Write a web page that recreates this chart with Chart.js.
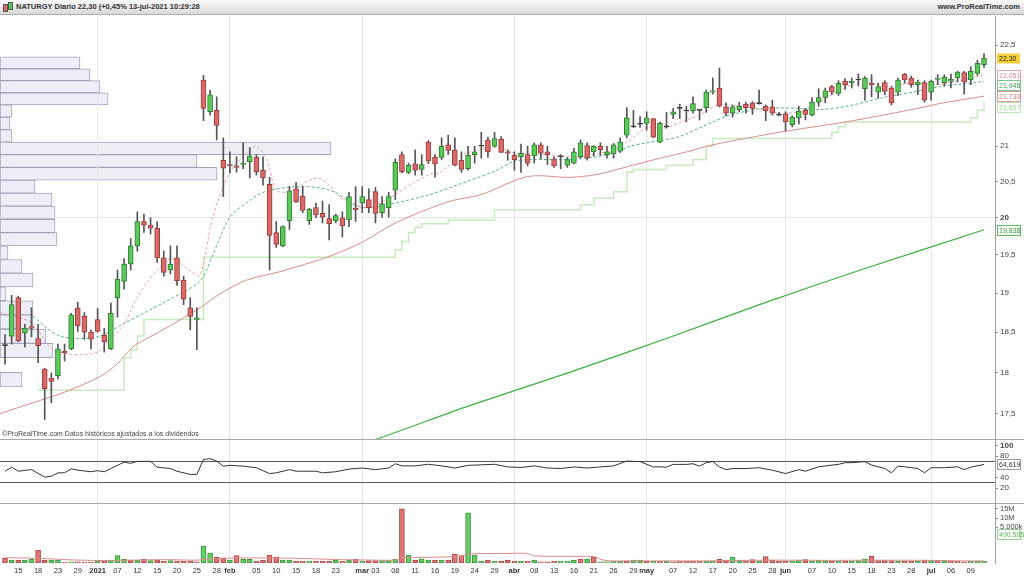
<!DOCTYPE html>
<html>
<head>
<meta charset="utf-8">
<script src="https://cdn.jsdelivr.net/npm/chart.js@4.4.1/dist/chart.umd.min.js"></script>
<style>
  body { margin: 0; width: 1024px; height: 576px; overflow: hidden; background: #fff; position: relative;
         font-family: "Liberation Sans", Arial, sans-serif; }
  #hdr { position: absolute; left: 0; top: 0; width: 1024px; height: 14px; background: linear-gradient(#fbfbfb, #d9d9d9);
         border-bottom: 1px solid #b0b0b0; font-size: 7.5px; font-weight: bold; color: #333; line-height: 14px; }
  #hdr .t { position: absolute; left: 16px; top: 0; }
  #hdr .r { position: absolute; right: 4px; top: 0; }
  #hdr .i1, #hdr .i2 { position: absolute; top: 4px; width: 3px; height: 6px; border: 1px solid #555; }
  #hdr .i1 { left: 3px; background: #d96a6a; }
  #hdr .i2 { left: 8px; top: 2px; background: #5cc85c; }
  canvas { position: absolute; left: 0; }
  .sep { position: absolute; left: 0; width: 1024px; height: 1px; background: #a8a8a8; }
  #note { position: absolute; left: 2px; top: 430px; font-size: 7px; color: #444; }
</style>
</head>
<body>
<div id="hdr"><span class="i1"></span><span class="i2"></span><span class="t">NATURGY Diario 22,30 (+0,45% 13-jul-2021 10:29:28</span><span class="r">www.ProRealTime.com</span></div>
<canvas id="profile" width="995" height="423" style="top:16px"></canvas>
<canvas id="price" width="1024" height="423" style="top:16px"></canvas>
<canvas id="rsi" width="1024" height="64" style="top:439px"></canvas>
<canvas id="vol" width="1024" height="73" style="top:503px"></canvas>
<div class="sep" style="top:439px"></div>
<div class="sep" style="top:503px"></div>
<div id="note">©ProRealTime.com  Datos históricos ajustados a los dividendos</div>
<script>
// sesiones 11-dic-2020 .. 13-jul-2021 (149 velas, índice 0..148)
const X_MIN = -0.76, X_MAX = 149.66;
const monthIdx = [14, 34, 54, 77, 97, 118, 140];
const xTickIdx = [2, 5, 8, 11, 14, 17, 20, 23, 26, 29, 32, 34, 38, 41, 44, 47, 50, 54, 56, 59, 62, 65, 68, 71, 74, 77, 80, 83, 86, 89, 92, 95, 97, 101, 104, 107, 110, 113, 116, 118, 122, 125, 128, 131, 134, 137, 140, 143, 146];
const xTickText = ['15', '18', '23', '29', '2021', '07', '12', '15', '20', '25', '28', 'feb', '05', '10', '15', '18', '23', 'mar', '03', '08', '11', '16', '19', '24', '29', 'abr', '08', '13', '16', '21', '26', '29', 'may', '07', '12', '17', '20', '25', '28', 'jun', '07', '10', '15', '18', '23', '28', 'jul', '06', '09'];

const opens = [18.33, 18.45, 18.94, 18.49, 18.57, 18.42, 18.04, 17.93, 17.96, 18.26, 18.29, 18.81, 18.70, 18.50, 18.66, 18.46, 18.29, 18.94, 19.15, 19.38,
  19.62, 19.95, 19.90, 19.86, 19.46, 19.30, 19.46, 19.17, 18.81, 18.66, 21.97, 21.50, 21.52, 20.80, 20.74, 20.72, 20.74, 20.78, 20.84, 20.66,
  20.46, 19.80, 19.62, 19.96, 20.40, 20.30, 19.96, 20.14, 20.06, 19.99, 19.96, 20.00, 19.97, 20.13, 20.20, 20.25, 20.36, 20.07, 20.14, 20.38,
  20.88, 20.63, 20.75, 20.67, 21.06, 20.84, 20.84, 21.02, 20.95, 20.80, 20.68, 20.88, 21.00, 21.09, 21.00, 21.10, 20.92, 20.87, 20.85, 20.88,
  20.86, 21.02, 20.92, 20.82, 20.85, 20.73, 20.76, 20.85, 21.01, 20.92, 21.00, 20.88, 20.89, 20.93, 21.16, 21.28, 21.32, 21.33, 21.40, 21.06,
  21.29, 21.46, 21.55, 21.52, 21.51, 21.52, 21.56, 21.79, 21.85, 21.57, 21.48, 21.53, 21.61, 21.63, 21.62, 21.58, 21.57, 21.46, 21.47, 21.31,
  21.41, 21.52, 21.45, 21.64, 21.71, 21.87, 21.77, 21.95, 21.93, 21.97, 21.84, 21.92, 21.79, 21.93, 21.85, 21.79, 22.06, 22.00, 21.90, 21.93,
  21.79, 21.98, 21.93, 21.95, 22.00, 22.08, 21.97, 22.07, 22.20];
const highs = [18.47, 18.97, 18.96, 18.60, 18.81, 18.60, 18.05, 17.99, 18.35, 18.35, 18.74, 18.88, 18.75, 18.53, 18.80, 18.55, 18.87, 19.30, 19.45, 19.72,
  20.08, 20.05, 20.00, 19.95, 19.55, 19.62, 19.62, 19.22, 18.94, 18.81, 22.04, 21.82, 21.72, 21.12, 20.92, 20.85, 21.05, 20.98, 20.88, 20.85,
  20.56, 19.95, 19.89, 20.43, 20.49, 20.43, 20.13, 20.20, 20.23, 20.18, 20.05, 20.08, 20.35, 20.43, 20.43, 20.40, 20.42, 20.29, 20.35, 20.82,
  20.92, 20.76, 20.95, 20.88, 21.08, 20.88, 21.12, 21.16, 21.12, 20.92, 21.00, 21.00, 21.20, 21.13, 21.20, 21.14, 20.95, 20.92, 21.03, 21.00,
  21.05, 21.05, 21.00, 20.85, 20.88, 20.84, 20.97, 21.09, 21.05, 21.01, 21.05, 21.00, 21.04, 21.12, 21.56, 21.52, 21.43, 21.50, 21.40, 21.35,
  21.49, 21.55, 21.61, 21.58, 21.72, 21.53, 21.82, 22.00, 22.15, 21.63, 21.60, 21.64, 21.64, 21.65, 21.82, 21.60, 21.67, 21.49, 21.50, 21.44,
  21.58, 21.55, 21.71, 21.84, 21.85, 21.89, 21.96, 21.99, 22.00, 22.06, 22.02, 22.05, 21.92, 21.96, 21.87, 22.00, 22.07, 22.03, 21.97, 21.96,
  21.97, 22.05, 22.05, 22.06, 22.10, 22.10, 22.17, 22.27, 22.37];
const lows = [18.10, 18.35, 18.38, 18.31, 18.44, 18.12, 17.43, 17.63, 17.92, 18.14, 18.28, 18.51, 18.41, 18.29, 18.50, 18.25, 18.28, 18.69, 19.05, 19.30,
  19.55, 19.80, 19.78, 19.40, 19.22, 19.25, 19.10, 18.85, 18.53, 18.28, 21.37, 21.45, 21.09, 20.29, 20.62, 20.63, 20.68, 20.55, 20.59, 20.45,
  19.30, 19.60, 19.61, 19.84, 20.21, 20.07, 19.91, 20.00, 19.93, 19.70, 19.93, 19.74, 19.88, 19.95, 20.07, 20.07, 19.93, 20.01, 20.01, 20.25,
  20.62, 20.61, 20.59, 20.59, 20.75, 20.56, 20.81, 20.88, 20.72, 20.63, 20.66, 20.76, 20.83, 20.84, 20.99, 20.91, 20.80, 20.66, 20.63, 20.72,
  20.76, 20.82, 20.74, 20.70, 20.68, 20.70, 20.75, 20.83, 20.80, 20.86, 20.87, 20.83, 20.83, 20.91, 21.12, 21.27, 21.27, 21.23, 21.12, 21.05,
  21.26, 21.40, 21.40, 21.35, 21.48, 21.38, 21.49, 21.76, 21.57, 21.44, 21.42, 21.50, 21.48, 21.46, 21.61, 21.37, 21.45, 21.44, 21.22, 21.28,
  21.32, 21.38, 21.44, 21.58, 21.63, 21.75, 21.74, 21.83, 21.85, 21.88, 21.67, 21.72, 21.70, 21.75, 21.60, 21.74, 21.92, 21.86, 21.75, 21.64,
  21.67, 21.90, 21.88, 21.85, 21.94, 21.76, 21.90, 22.04, 22.16];
const closes = [18.34, 18.85, 18.39, 18.55, 18.55, 18.33, 17.80, 17.89, 18.29, 18.24, 18.72, 18.58, 18.50, 18.41, 18.51, 18.38, 18.74, 19.18, 19.38, 19.62,
  19.95, 19.90, 19.86, 19.46, 19.27, 19.38, 19.16, 18.92, 18.70, 18.68, 21.55, 21.75, 21.30, 20.69, 20.72, 20.70, 20.76, 20.86, 20.64, 20.55,
  19.76, 19.64, 19.88, 20.37, 20.22, 20.10, 20.12, 20.04, 20.01, 19.92, 20.03, 19.89, 20.29, 20.11, 20.29, 20.14, 20.06, 20.19, 20.29, 20.77,
  20.64, 20.73, 20.66, 20.74, 20.79, 20.75, 21.00, 20.94, 20.73, 20.67, 20.87, 20.92, 21.01, 20.92, 21.11, 20.91, 20.90, 20.81, 20.90, 20.76,
  21.02, 20.90, 20.88, 20.72, 20.86, 20.81, 20.92, 21.05, 20.83, 21.00, 20.95, 20.92, 21.02, 21.06, 21.41, 21.29, 21.33, 21.41, 21.13, 21.33,
  21.28, 21.50, 21.55, 21.51, 21.62, 21.52, 21.79, 21.81, 21.58, 21.48, 21.57, 21.58, 21.56, 21.55, 21.63, 21.51, 21.48, 21.45, 21.35, 21.42,
  21.51, 21.46, 21.64, 21.71, 21.81, 21.79, 21.92, 21.90, 21.95, 21.98, 22.00, 21.90, 21.87, 21.80, 21.63, 21.97, 21.97, 21.90, 21.94, 21.67,
  21.95, 22.00, 22.01, 21.98, 22.09, 21.94, 22.10, 22.22, 22.30];

// volumen (millones de títulos) y color de la barra (g = sube, r = baja)
const volumes = [1.44, 0.86, 0.86, 0.86, 1.06, 3.73, 0.86, 0.86, 0.86, 0.20, 0.37, 0.37, 0.29, 0.29, 0.57, 0.57, 0.86, 2.10, 1.06, 0.86,
  0.86, 1.06, 0.66, 0.86, 0.49, 0.66, 0.57, 0.57, 0.57, 0.37, 4.88, 2.87, 1.72, 1.44, 0.86, 2.10, 1.06, 1.06, 0.57, 0.86,
  2.30, 1.72, 0.86, 0.86, 0.57, 0.49, 0.49, 0.49, 0.57, 0.57, 0.86, 0.49, 0.86, 1.06, 0.49, 0.66, 0.66, 0.66, 0.66, 1.06,
  15.50, 2.30, 0.86, 1.23, 0.86, 0.86, 0.86, 0.86, 2.58, 2.10, 14.35, 2.30, 0.57, 0.86, 0.49, 0.57, 0.86, 0.49, 0.57, 0.49,
  0.86, 0.37, 0.37, 0.49, 0.49, 0.49, 0.86, 1.15, 1.23, 1.72, 0.37, 0.37, 0.49, 0.57, 0.57, 0.86, 0.86, 0.57, 0.49, 0.49,
  0.57, 0.37, 0.49, 0.49, 0.49, 0.49, 0.57, 0.49, 1.06, 0.86, 1.72, 0.86, 0.49, 0.95, 0.57, 1.81, 0.86, 0.57, 0.49, 0.49,
  0.86, 0.95, 0.57, 0.77, 0.66, 0.57, 0.49, 0.57, 0.57, 0.66, 1.23, 1.92, 0.66, 0.66, 0.66, 0.57, 0.57, 0.49, 0.57, 0.86,
  0.66, 0.49, 0.77, 0.49, 0.49, 0.37, 0.49, 0.57, 0.490585];
const volUp = 'rgrggrrggrgrrrgrgggrgrgrrgrrrrggrrgrggrrrrggrrgrrrg' +
  'rgrgrrgggrgrggrgrrrgggrgrrrgrgrrrgggrgrggggrggrgrgr' +
  'rrrrggrrggrrgrrrrggrgggrgrgggrrrrgrrgrgrgrrrggg';

// medias y niveles (índice de vela, valor)
const maShortIdx = [-0.76, 4, 7, 10, 14, 16, 18, 20, 23, 25, 26, 28, 29.5, 31.4, 34, 36.6, 38, 39.6, 41, 43, 45.7, 47.2, 48.7, 50.6, 52.6, 54.7, 56.7, 59.3, 61.7, 64.2, 65.8, 69.2, 74.4, 76.8, 81.9, 86.9, 91.9, 94.5, 97, 99.5, 103.6, 105, 108, 112, 117, 120, 123, 127.3, 130.3, 133.3, 137.3, 141.3, 148];
const maShortVal = [18.75, 18.62, 18.30, 18.22, 18.25, 18.42, 18.60, 18.95, 19.30, 19.45, 19.42, 19.29, 19.23, 20.01, 20.63, 20.91, 21.00, 20.81, 20.38, 20.36, 20.50, 20.55, 20.48, 20.29, 20.18, 20.14, 20.20, 20.34, 20.48, 20.60, 20.63, 20.88, 20.98, 20.91, 20.88, 20.85, 20.95, 21.09, 21.27, 21.26, 21.40, 21.45, 21.60, 21.57, 21.48, 21.50, 21.64, 21.87, 21.94, 21.87, 21.93, 21.90, 22.051];
const maMidIdx = [4.2, 8.3, 13.9, 18.4, 24.5, 29.5, 31.4, 34, 36.6, 39, 44.1, 49.1, 54.1, 59.3, 64.2, 69.2, 74.4, 76.8, 79.4, 84.4, 89.5, 92.5, 94.5, 97, 99.5, 102, 107, 109.6, 114.6, 119.7, 123.2, 127.3, 132.3, 137.3, 141.3, 148];
const maMidVal = [18.70, 18.45, 18.44, 18.63, 18.90, 19.16, 19.50, 20.01, 20.21, 20.35, 20.43, 20.38, 20.14, 20.21, 20.32, 20.48, 20.66, 20.78, 20.81, 20.81, 20.85, 20.92, 21.00, 21.05, 21.09, 21.14, 21.35, 21.45, 21.55, 21.55, 21.53, 21.58, 21.70, 21.79, 21.87, 21.948];
const maLongIdx = [-0.76, 4.2, 9.4, 14.4, 16.9, 19.4, 21.9, 24.5, 29.5, 32.5, 36.6, 41.6, 49, 54, 59, 67, 72, 79, 85.4, 89.5, 94.5, 99.5, 103.5, 107, 117, 127, 137, 141.3, 148];
const maLongVal = [17.50, 17.63, 17.77, 17.95, 18.10, 18.32, 18.44, 18.56, 18.81, 18.99, 19.17, 19.28, 19.48, 19.67, 19.93, 20.22, 20.32, 20.57, 20.56, 20.60, 20.72, 20.84, 20.93, 21.02, 21.20, 21.35, 21.53, 21.62, 21.730];
const ma200Idx = [50, 57, 70, 85, 100, 115, 130, 148];
const ma200Val = [17.05, 17.22, 17.59, 17.99, 18.42, 18.88, 19.32, 19.838];
const stopIdx = [5, 18, 19, 20, 21, 30, 59, 60, 61, 62, 63, 67, 74, 87, 89, 92, 94, 95, 100, 104, 106, 107, 125, 126, 127, 146, 147, 148];
const stopVal = [17.78, 18.18, 18.28, 18.45, 18.66, 19.47, 19.57, 19.68, 19.80, 19.87, 19.92, 19.97, 20.11, 20.18, 20.27, 20.36, 20.63, 20.67, 20.73, 20.81, 21.00, 21.11, 21.20, 21.28, 21.35, 21.41, 21.52, 21.657];

const rsiIdx = [0, 1, 2, 4, 6, 7, 8, 9, 10, 11, 13, 14, 15, 16, 17, 18, 19, 20, 22, 23, 25, 26, 28, 29, 30, 31, 32, 33, 34, 36, 38, 40, 41, 43, 44, 47, 48, 50,
  52, 54, 56, 58, 59, 60, 62, 64, 66, 68, 70, 72, 74, 76, 78, 80, 82, 84, 86, 88, 90, 92, 94, 96, 98,
  99, 100, 101, 103, 104, 105, 106, 107, 108, 109, 110, 112, 114, 116, 118, 120, 121, 123, 125, 126, 127, 128, 130, 131, 133, 134, 135, 136, 138, 139, 140, 142, 144, 145, 146, 148];
const rsiVal = [52, 59.6, 52, 55, 41, 42.5, 49, 49, 56.5, 54, 51, 53, 51, 57, 63, 69, 66.7, 70.5, 70.5, 59.6, 57, 52, 46, 46, 74, 75.5, 71, 61.5, 63, 61.5, 58.5, 47.6, 49, 55, 52, 52, 49, 51,
  56, 58, 55, 58, 66, 62, 62, 65, 62, 58, 63, 64, 65, 60, 59, 62, 58, 57, 60, 58, 60, 62, 71, 70, 60,
  60.3, 59.6, 64.8, 64.8, 66, 61.5, 68, 70, 60.3, 55, 57, 57, 58.5, 54, 47.6, 55, 52, 60.3, 63.5, 64.8, 68, 68, 70, 63.5, 57, 49, 61.5, 60.3, 57, 49, 58.5, 58.5, 60.3, 55, 59.6, 64.619];

const volMaIdx = [0, 5, 10, 15, 20, 25, 29, 30, 33, 37, 40, 45, 50, 55, 59, 60, 63, 68, 69, 70, 75, 79, 80, 85, 89, 90, 91, 95, 100, 105, 110, 115, 120, 125, 130, 135, 140, 145, 148];
const volMaVal = [1.5, 1.35, 0.9, 0.7, 0.85, 0.95, 0.8, 1.05, 1.35, 1.45, 1.45, 1.3, 1.0, 0.85, 0.85, 1.55, 1.6, 1.8, 1.9, 2.6, 2.7, 2.75, 2.05, 1.9, 1.8, 1.1, 0.65, 0.6, 0.6, 0.6, 0.7, 0.8, 0.8, 0.75, 0.8, 0.8, 0.75, 0.6, 0.6];

// volumen por nivel de precio (perfil de la izquierda), tramos de 0,18
const profPrice = [22.23, 22.05, 21.87, 21.69, 21.51, 21.33, 21.15, 20.97, 20.79, 20.61, 20.43, 20.25, 20.07, 19.89, 19.71, 19.53, 19.35, 19.17, 18.99, 18.81, 18.63, 18.45, 18.27, 18.09, 17.91];
const profVol = [8.0, 9.0, 10.0, 10.8, 1.2, 1.0, 1.2, 33.1, 19.7, 21.7, 3.5, 5.2, 5.5, 5.5, 5.7, 0.8, 2.2, 3.3, 0.6, 3.3, 3.3, 4.6, 5.3, 0, 2.2];

const priceTicks = [17.5, 18, 18.5, 19, 19.5, 20, 20.5, 21, 22.5];
const rsiTicks = [20, 30, 40, 70, 80, 100];
const rsiLevels = [30, 70];
const volTicks = [10.3, 12.9, 15.5];
const volTickText = ['5.000k', '10M', '15M'];

Chart.defaults.font.family = '"Liberation Sans", Arial, sans-serif';
Chart.defaults.font.size = 8;
Chart.defaults.color = '#444';

const pts = (idx, val) => idx.map((x, i) => ({ x: x, y: val[i] }));
const comma = (v, d) => v.toFixed(d).replace('.', ',');
const baseOpts = {
  responsive: false, animation: false, devicePixelRatio: 1, events: [],
  layout: { padding: 0 },
  plugins: { legend: { display: false }, tooltip: { enabled: false } }
};

function xAxis(extra) {
  return Object.assign({
    type: 'linear', min: X_MIN, max: X_MAX, offset: false,
    afterBuildTicks: s => { s.ticks = monthIdx.map(v => ({ value: v })); },
    afterFit: s => { s.height = 0; s.paddingLeft = 0; s.paddingRight = 0; },
    ticks: { display: false },
    grid: { color: '#e6e6e6', drawTicks: false, offset: false },
    border: { display: false }
  }, extra || {});
}
function yAxis(extra) {
  return Object.assign({
    position: 'right',
    afterFit: s => { s.width = 29; s.paddingTop = 0; s.paddingBottom = 0; },
    border: { color: '#a0a0a0' }
  }, extra);
}

// cajas con el último valor de cada serie sobre el eje derecho
function boxes(id, items, maxPyFn) {
  return {
    id: id,
    afterDraw(chart) {
      const sc = chart.scales.y, c = chart.ctx;
      const list = items.map(b => Object.assign({ py: sc.getPixelForValue(b.v) }, b)).sort((a, b) => a.py - b.py);
      if (maxPyFn) list.forEach(b => { b.py = Math.min(b.py, maxPyFn(sc)); });
      for (let i = 1; i < list.length; i++) {
        if (list[i].py < list[i - 1].py + 10.5) list[i].py = list[i - 1].py + 10.5;
      }
      c.save();
      c.font = '7px "Liberation Sans", Arial, sans-serif';
      c.textBaseline = 'middle';
      list.forEach(b => {
        const x = sc.left + 2, w = 23, h = 10, y = Math.round(b.py - h / 2) + 0.5;
        c.fillStyle = b.bg; c.fillRect(x, y, w, h);
        if (b.bd) { c.strokeStyle = b.bd; c.lineWidth = 1; c.strokeRect(x + 0.5, y, w, h); }
        c.fillStyle = b.fg; c.fillText(b.t, x + 2, y + h / 2 + 0.5);
      });
      c.restore();
    }
  };
}

// perfil de volumen (detrás de las velas)
new Chart(document.getElementById('profile'), {
  type: 'bar',
  data: { datasets: [{
    data: profPrice.map((p, i) => ({ y: p, x: profVol[i] })),
    backgroundColor: '#eeeef7', borderColor: '#a4a4b8', borderSkipped: false,
    borderWidth: ctx => (ctx.raw && ctx.raw.x > 0 ? 1 : 0),
    barThickness: 'flex', barPercentage: 1, categoryPercentage: 1
  }] },
  options: Object.assign({}, baseOpts, {
    indexAxis: 'y',
    scales: {
      y: { type: 'logarithmic', min: 17.2, max: 22.95, display: false, offset: false, afterBuildTicks: s => { s.ticks = []; } },
      x: { type: 'linear', min: 0, max: 99.5, display: false }
    }
  })
});

const last = closes.length - 1;
const isDoji = i => Math.abs(closes[i] - opens[i]) < 0.015;
const bodyFill = closes.map((c, i) => isDoji(i) ? '#333' : (c > opens[i] ? '#5cc85c' : '#d96a6a'));
const bodyLine = closes.map((c, i) => isDoji(i) ? '#333' : (c > opens[i] ? '#2f7f2f' : '#9b3d3d'));

new Chart(document.getElementById('price'), {
  type: 'bar',
  data: { datasets: [
    { data: opens.map((o, i) => ({ x: i, y: [o, closes[i]] })), backgroundColor: bodyFill, borderColor: bodyLine,
      borderWidth: 1, borderSkipped: false, grouped: false, barPercentage: 1, categoryPercentage: 1, maxBarThickness: 5, minBarLength: 1 },
    { data: lows.map((l, i) => ({ x: i, y: [l, highs[i]] })), backgroundColor: '#555',
      grouped: false, barPercentage: 1, categoryPercentage: 1, maxBarThickness: 1 },
    { type: 'line', data: pts(maShortIdx, maShortVal), borderColor: '#e7a3ab', borderWidth: 1, borderDash: [3, 2], pointRadius: 0, tension: 0.3 },
    { type: 'line', data: pts(maMidIdx, maMidVal), borderColor: '#58b487', borderWidth: 1, borderDash: [3, 2], pointRadius: 0, tension: 0.3 },
    { type: 'line', data: pts(maLongIdx, maLongVal), borderColor: '#d98c8c', borderWidth: 1, pointRadius: 0, tension: 0.3 },
    { type: 'line', data: pts(ma200Idx, ma200Val), borderColor: '#3cb043', borderWidth: 1.2, pointRadius: 0, tension: 0.2 },
    { type: 'line', data: pts(stopIdx, stopVal), borderColor: '#c6ebbf', borderWidth: 1.5, pointRadius: 0, stepped: 'before' }
  ] },
  options: Object.assign({}, baseOpts, {
    scales: {
      x: xAxis(),
      y: yAxis({
        type: 'logarithmic', min: 17.2, max: 22.95,
        afterBuildTicks: s => { s.ticks = priceTicks.map(v => ({ value: v })); },
        ticks: {
          padding: 2, color: '#444', autoSkip: false,
          callback: v => String(v).replace('.', ','),
          font: ctx => ({ size: 8, weight: ctx.tick && ctx.tick.value === 20 ? 'bold' : 'normal' })
        },
        grid: {
          color: ctx => ctx.tick && ctx.tick.value === 20 ? '#e6e6e6' : 'rgba(0,0,0,0)',
          tickColor: '#888', tickLength: 3
        }
      })
    }
  }),
  plugins: [boxes('pbox', [
    { v: closes[last], t: comma(closes[last], 2), bg: '#f3d23c', fg: '#222' },
    { v: maShortVal[maShortVal.length - 1], t: comma(maShortVal[maShortVal.length - 1], 3), bg: '#fff', bd: '#e3a6ae', fg: '#d98a94' },
    { v: maMidVal[maMidVal.length - 1], t: comma(maMidVal[maMidVal.length - 1], 3), bg: '#fff', bd: '#7cc48f', fg: '#3f9a5c' },
    { v: maLongVal[maLongVal.length - 1], t: comma(maLongVal[maLongVal.length - 1], 3), bg: '#fff', bd: '#d99a9a', fg: '#c77b7b' },
    { v: stopVal[stopVal.length - 1], t: comma(stopVal[stopVal.length - 1], 3), bg: '#fff', bd: '#bfe5b7', fg: '#9fd396' },
    { v: ma200Val[ma200Val.length - 1], t: comma(ma200Val[ma200Val.length - 1], 3), bg: '#fff', bd: '#5dbd63', fg: '#2f9e37' }
  ])]
});

new Chart(document.getElementById('rsi'), {
  type: 'line',
  data: { datasets: [
    { data: pts(rsiIdx, rsiVal), borderColor: '#333', borderWidth: 1, pointRadius: 0, tension: 0 }
  ] },
  options: Object.assign({}, baseOpts, {
    scales: {
      x: xAxis(),
      y: yAxis({
        type: 'linear', min: -7.6, max: 112.4,
        afterBuildTicks: s => { s.ticks = rsiTicks.map(v => ({ value: v })); },
        ticks: {
          padding: 2, color: '#444', autoSkip: false,
          callback: v => rsiLevels.includes(v) ? '' : String(v),
          font: ctx => ({ size: 8, weight: ctx.tick && ctx.tick.value === 100 ? 'bold' : 'normal' })
        },
        grid: {
          color: ctx => ctx.tick && rsiLevels.includes(ctx.tick.value) ? '#5a5a5a' : 'rgba(0,0,0,0)',
          tickColor: ctx => ctx.tick && rsiLevels.includes(ctx.tick.value) ? 'rgba(0,0,0,0)' : '#888',
          tickLength: 3
        }
      })
    }
  }),
  plugins: [boxes('rbox', [
    { v: rsiVal[rsiVal.length - 1], t: comma(rsiVal[rsiVal.length - 1], 3), bg: '#fff', bd: '#999', fg: '#333' }
  ])]
});

const volFmt = v => Math.round(v * 1e6).toLocaleString('de-DE');
new Chart(document.getElementById('vol'), {
  type: 'bar',
  data: { datasets: [
    { type: 'line', data: pts(volMaIdx, volMaVal), borderColor: '#d98c8c', borderWidth: 1, pointRadius: 0, tension: 0.3 },
    { data: volumes.map((v, i) => ({ x: i, y: v })),
      backgroundColor: volumes.map((v, i) => volUp[i] === 'g' ? '#66cc66' : '#e07474'),
      borderColor: volumes.map((v, i) => volUp[i] === 'g' ? '#3c963c' : '#a84848'),
      borderWidth: 1, borderSkipped: false, grouped: false, barPercentage: 1, categoryPercentage: 1, maxBarThickness: 5 }
  ] },
  options: Object.assign({}, baseOpts, {
    scales: {
      x: xAxis({
        afterBuildTicks: s => { s.ticks = xTickIdx.map(v => ({ value: v })); },
        afterFit: s => { s.height = 13; s.paddingLeft = 0; s.paddingRight = 0; },
        ticks: {
          display: true, autoSkip: false, maxRotation: 0, minRotation: 0, padding: 3, color: '#333',
          callback: v => xTickText[xTickIdx.indexOf(v)],
          font: ctx => ({ size: 7.5, weight: ctx.tick && monthIdx.includes(ctx.tick.value) ? 'bold' : 'normal' })
        },
        grid: { color: ctx => ctx.tick && monthIdx.includes(ctx.tick.value) ? '#e6e6e6' : 'rgba(0,0,0,0)', drawTicks: false, offset: false }
      }),
      y: yAxis({
        type: 'linear', min: 0, max: 17.2,
        afterBuildTicks: s => { s.ticks = volTicks.map(v => ({ value: v })); },
        ticks: { padding: 2, color: '#444', autoSkip: false, font: { size: 7.5 }, callback: v => volTickText[volTicks.indexOf(v)] },
        grid: { color: 'rgba(0,0,0,0)', tickColor: '#888', tickLength: 3 }
      })
    }
  }),
  plugins: [boxes('vbox', [
    { v: volumes[last], t: volFmt(volumes[last]), bg: '#fff', bd: '#8fd08f', fg: '#5cb85c' }
  ], sc => sc.getPixelForValue(volTicks[0]) + 7)]
});
</script>
</body>
</html>
